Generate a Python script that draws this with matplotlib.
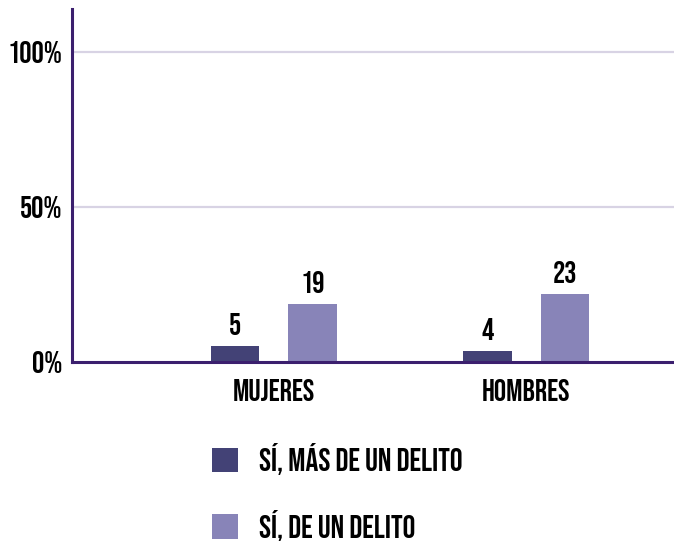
import matplotlib
matplotlib.use("Agg")
import matplotlib.pyplot as plt
from matplotlib import font_manager
from matplotlib.patches import Patch
import numpy as np

categories = ["MUJERES", "HOMBRES"]
series_names = ["SÍ, MÁS DE UN DELITO", "SÍ, DE UN DELITO"]
mas_de_un_delito = [5.1, 3.5]      # bar heights (%)
de_un_delito = [18.7, 21.9]        # bar heights (%)
labels_mas = ["5", "4"]
labels_de = ["19", "23"]
yticks = [0, 50, 100]
ytick_labels = ["0%", "50%", "100%"]

names = {f.name for f in font_manager.fontManager.ttflist}
fam = "DejaVu Sans"
for cand in ["Bebas Neue", "Oswald", "Barlow Condensed", "Asap Condensed", "Archivo Narrow"]:
    if cand in names:
        fam = cand
        break
bebas = fam == "Bebas Neue"
WEIGHT = "normal" if bebas else "bold"
plt.rcParams["font.family"] = [fam, "DejaVu Sans"]
plt.rcParams["font.weight"] = WEIGHT

dark = "#434276"
light = "#8884b8"
axis_col = "#3b1f6e"
grid_col = "#d8d3e4"
FS_TICK = 22
FS_VAL = 22
FS_CAT = 22
FS_LEG = 23

fig = plt.figure(figsize=(6.74, 5.41), dpi=100)
ax = fig.add_axes([72/674, 1-362/541, 602/674, 353/541])

x = np.arange(len(categories))
w = 0.194
off = 0.154
b1 = ax.bar(x - off, mas_de_un_delito, w, color=dark, zorder=3)
b2 = ax.bar(x + off, de_un_delito, w, color=light, zorder=3)

for bars, labs in ((b1, labels_mas), (b2, labels_de)):
    for r, lab in zip(bars, labs):
        ax.annotate(lab, (r.get_x() + r.get_width()/2, r.get_height()),
                    xytext=(0, 8), textcoords="offset points",
                    ha="center", va="bottom", fontsize=FS_VAL, fontweight=WEIGHT,
                    color="black")

ax.set_xlim(-0.8, 1.586)
ax.set_ylim(0, 114)
ax.set_yticks(yticks)
ax.set_yticklabels(ytick_labels)
ax.set_xticks(x)
ax.set_xticklabels(categories)
ax.tick_params(axis="both", length=0, colors="black")
ax.tick_params(axis="y", pad=7, labelsize=FS_TICK)
ax.tick_params(axis="x", pad=12, labelsize=FS_CAT)
for t in ax.get_xticklabels() + ax.get_yticklabels():
    t.set_fontweight(WEIGHT)

for s in ("top", "right"):
    ax.spines[s].set_visible(False)
for s in ("left", "bottom"):
    ax.spines[s].set_color(axis_col)
    ax.spines[s].set_linewidth(2.2)
    ax.spines[s].set_zorder(4)

for yv in [50, 100]:
    ax.axhline(yv, color=grid_col, linewidth=1.6, zorder=1)

handles = [Patch(facecolor=dark, edgecolor="none"), Patch(facecolor=light, edgecolor="none")]
leg = fig.legend(handles, series_names, loc="upper left",
                 bbox_to_anchor=(212/674, 1-443/541), frameon=False,
                 fontsize=FS_LEG, handlelength=0.8, handleheight=0.8,
                 handletextpad=0.66, labelspacing=1.08, borderpad=0, borderaxespad=0)
for t in leg.get_texts():
    t.set_fontweight(WEIGHT)

fig.savefig("out.png", dpi=100)
